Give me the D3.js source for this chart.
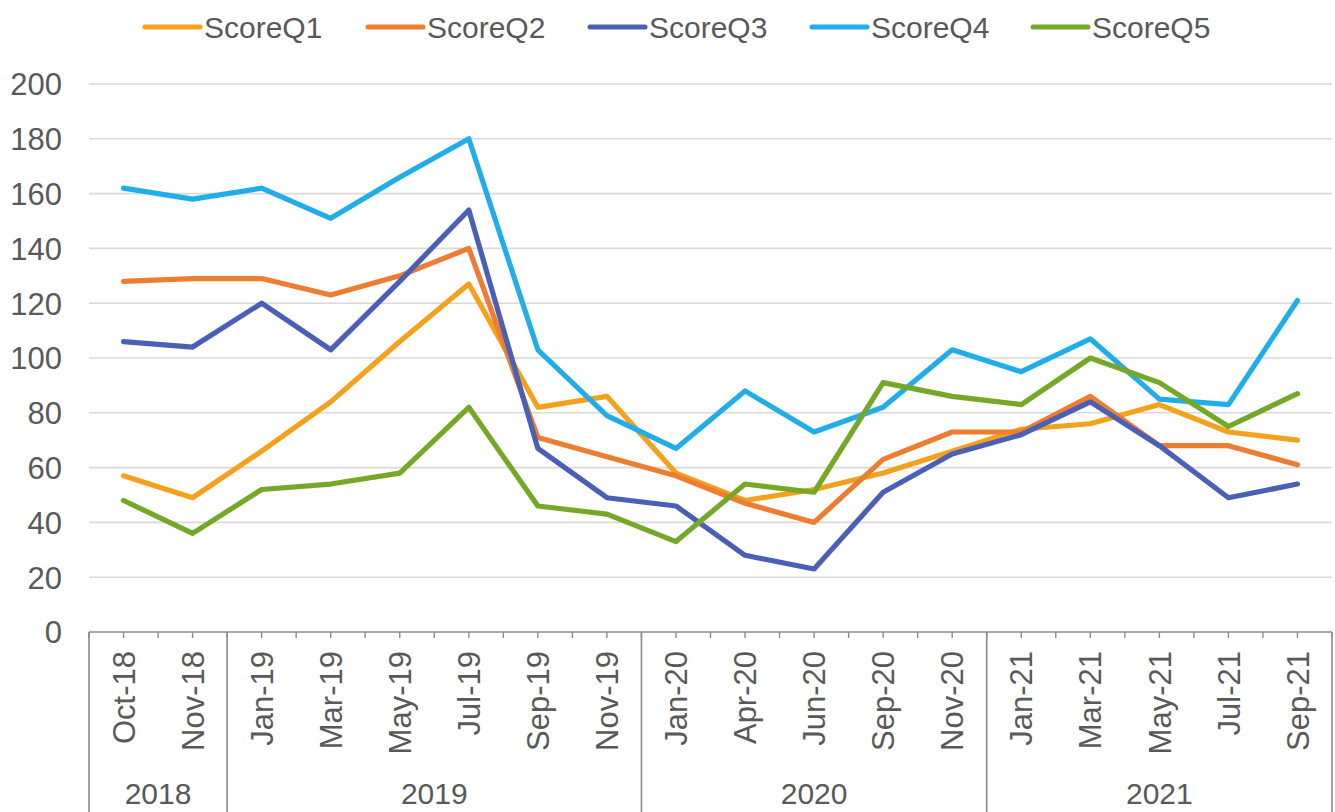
<!DOCTYPE html>
<html>
<head>
<meta charset="utf-8">
<script src="https://cdn.jsdelivr.net/npm/d3@7"></script>
<style>
  html, body { margin: 0; padding: 0; background: #fff; }
  svg { display: block; }
  text { font-family: Arial, "Liberation Sans", sans-serif; fill: #595959; }
</style>
</head>
<body>
<svg id="chart" width="1335" height="812"></svg>
<script>
const categories = ["Oct-18","Nov-18","Jan-19","Mar-19","May-19","Jul-19","Sep-19","Nov-19","Jan-20","Apr-20","Jun-20","Sep-20","Nov-20","Jan-21","Mar-21","May-21","Jul-21","Sep-21"];
const years = ["2018","2018","2019","2019","2019","2019","2019","2019","2020","2020","2020","2020","2020","2021","2021","2021","2021","2021"];
const seriesNames = ["ScoreQ1","ScoreQ2","ScoreQ3","ScoreQ4","ScoreQ5"];
const scoreQ1 = [57, 49, 66, 84, 106, 127, 82, 86, 58, 48, 52, 58, 66, 74, 76, 83, 73, 70];
const scoreQ2 = [128, 129, 129, 123, 130, 140, 71, 64, 57, 47, 40, 63, 73, 73, 86, 68, 68, 61];
const scoreQ3 = [106, 104, 120, 103, 128, 154, 67, 49, 46, 28, 23, 51, 65, 72, 84, 68, 49, 54];
const scoreQ4 = [162, 158, 162, 151, 166, 180, 103, 79, 67, 88, 73, 82, 103, 95, 107, 85, 83, 121];
const scoreQ5 = [48, 36, 52, 54, 58, 82, 46, 43, 33, 54, 51, 91, 86, 83, 100, 91, 75, 87];
const colors = ["#F4A11D", "#ED7D31", "#4A60B6", "#21AEE8", "#76A827"];
const yTicks = [0, 20, 40, 60, 80, 100, 120, 140, 160, 180, 200];

const seriesValues = [scoreQ1, scoreQ2, scoreQ3, scoreQ4, scoreQ5];

const svg = d3.select("#chart");
const plotLeft = 89, plotRight = 1332, plotTop = 84, plotBottom = 632;

const x = d3.scaleBand().domain(categories).range([plotLeft, plotRight]).padding(0);
const y = d3.scaleLinear().domain([0, 200]).range([plotBottom, plotTop]);
const bw = x.bandwidth();
const cx = c => x(c) + bw / 2;

// gridlines
svg.append("g").selectAll("line").data(yTicks.filter(t => t > 0)).join("line")
  .attr("x1", plotLeft).attr("x2", plotRight)
  .attr("y1", d => y(d)).attr("y2", d => y(d))
  .attr("stroke", "#d9d9d9").attr("stroke-width", 1.6);

// y labels
const yAxis = d3.axisLeft(y).tickValues(yTicks).tickSize(0).tickPadding(0);
const yg = svg.append("g").attr("transform", "translate(62,0)").call(yAxis);
yg.select(".domain").remove();
yg.selectAll("text").attr("font-size", 31).attr("fill", "#595959")
  .attr("font-family", "Arial, 'Liberation Sans', sans-serif").attr("dy", "0.35em");

// x axis line
const axisColor = "#8c8c8c";
svg.append("line").attr("x1", plotLeft).attr("x2", plotRight).attr("y1", plotBottom).attr("y2", plotBottom)
  .attr("stroke", axisColor).attr("stroke-width", 1.6);

// half-band ticks
const tickXs = [];
categories.forEach(c => { tickXs.push(x(c)); tickXs.push(cx(c)); });
tickXs.push(plotRight);
svg.append("g").selectAll("line").data(tickXs).join("line")
  .attr("x1", d => d).attr("x2", d => d).attr("y1", plotBottom).attr("y2", plotBottom + 6)
  .attr("stroke", axisColor).attr("stroke-width", 1.4);

// year groups
const groups = [];
years.forEach((yr, i) => {
  const g = groups.find(o => o.year === yr);
  if (g) g.end = i; else groups.push({year: yr, start: i, end: i});
});
const seps = [plotLeft];
groups.forEach(g => seps.push(x(categories[g.end]) + bw));
svg.append("g").selectAll("line").data(seps).join("line")
  .attr("x1", d => d).attr("x2", d => d).attr("y1", plotBottom).attr("y2", 812)
  .attr("stroke", axisColor).attr("stroke-width", 1.6);

// month labels
svg.append("g").selectAll("text").data(categories).join("text")
  .attr("transform", d => `translate(${cx(d)},651) rotate(-90)`)
  .attr("text-anchor", "end").attr("dy", "0.36em")
  .attr("font-size", 31).text(d => d);

// year labels
svg.append("g").selectAll("text").data(groups).join("text")
  .attr("x", g => (x(categories[g.start]) + x(categories[g.end]) + bw) / 2)
  .attr("y", 804).attr("text-anchor", "middle")
  .attr("font-size", 30).text(g => g.year);

// lines
const line = d3.line().x((d, i) => cx(categories[i])).y(d => y(d));
svg.append("g").selectAll("path").data(seriesValues).join("path")
  .attr("d", d => line(d)).attr("fill", "none")
  .attr("stroke", (d, i) => colors[i]).attr("stroke-width", 5.2)
  .attr("stroke-linejoin", "round").attr("stroke-linecap", "round");

// legend
const legendX = [145, 368, 590, 812, 1033];
const lg = svg.append("g").selectAll("g").data(seriesNames).join("g")
  .attr("transform", (d, i) => `translate(${legendX[i]},27)`);
lg.append("line").attr("x1", 0).attr("x2", 55).attr("y1", 0).attr("y2", 0)
  .attr("stroke", (d, i) => colors[i]).attr("stroke-width", 5).attr("stroke-linecap", "round");
lg.append("text").attr("x", 59).attr("dy", "0.35em").attr("font-size", 30).text(d => d);
</script>
</body>
</html>
